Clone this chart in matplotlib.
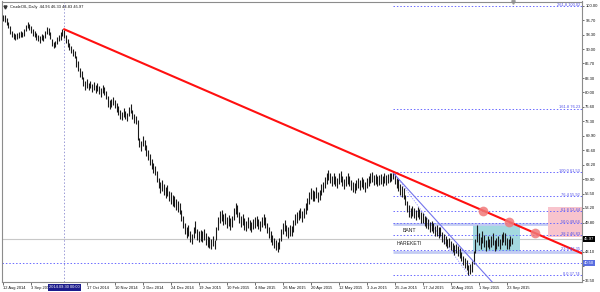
import matplotlib
matplotlib.use("Agg")
import matplotlib.pyplot as plt
import matplotlib.transforms as mtransforms
from matplotlib.patches import Rectangle

# ---------------- data ----------------
highs = [
    98.0, 97.8, 97.3, 96.4, 95.3, 94.3, 93.7, 93.5, 93.7, 93.9,
    94.1, 94.0, 94.6, 95.7, 96.2, 95.9, 95.3, 94.6, 94.2, 93.7,
    93.2, 93.0, 93.5, 93.3, 94.2, 95.1, 94.8, 94.0, 92.4, 91.7,
    92.0, 92.8, 93.3, 93.9, 94.6, 94.5, 93.3, 92.4, 91.4, 90.8,
    90.0, 89.6, 88.3, 87.2, 85.6, 85.0, 83.6, 82.6, 83.0, 82.2,
    82.7, 81.9, 82.5, 81.7, 82.1, 81.4, 80.9, 81.8, 81.2, 80.4,
    79.2, 78.2, 78.5, 79.0, 78.3, 77.5, 76.8, 75.9, 75.5, 76.3,
    75.7, 75.3, 76.5, 77.2, 76.0, 75.0, 74.5, 73.6, 69.5, 68.6,
    69.8, 69.0, 67.7, 66.6, 65.6, 64.6, 63.7, 63.0, 61.8, 60.2,
    59.3, 59.7, 58.8, 58.0, 58.5, 57.2, 56.8, 56.3, 56.0, 55.3,
    54.8, 54.3, 52.8, 51.3, 49.8, 48.8, 49.3, 47.8, 47.2, 48.8,
    50.2, 48.3, 47.8, 48.1, 47.8, 48.3, 47.3, 46.8, 46.5, 46.1,
    46.8, 45.8, 48.8, 51.0, 52.6, 52.8, 51.8, 52.1, 51.1, 51.6,
    50.8, 51.3, 53.3, 54.3, 53.8, 52.3, 51.3, 51.8, 50.8, 50.2,
    51.0, 50.4, 50.0, 50.7, 51.0, 51.4, 50.7, 50.2, 51.2, 51.7,
    51.0, 49.7, 48.8, 47.8, 47.0, 46.2, 45.7, 45.4, 46.2, 48.3,
    49.8, 50.5, 49.3, 48.8, 49.3, 49.1, 50.3, 51.8, 52.3, 52.8,
    53.3, 52.5, 53.3, 54.3, 55.4, 56.8, 57.8, 57.3, 57.2, 58.0,
    57.0, 57.4, 58.8, 59.2, 60.3, 61.2, 62.0, 61.4, 60.7, 61.2,
    60.7, 60.2, 61.2, 61.7, 60.7, 60.0, 60.7, 61.2, 60.7, 59.7,
    59.2, 59.0, 59.7, 60.2, 59.7, 60.4, 60.0, 59.2, 60.2, 60.7,
    61.2, 61.5, 60.9, 61.0, 60.6, 60.9, 61.0, 60.6, 61.2, 60.8,
    61.0, 61.2, 61.4, 61.6, 61.0, 60.2, 59.8, 58.8, 58.2, 57.8,
    56.3, 54.8, 53.8, 53.2, 53.7, 53.2, 52.7, 53.5, 53.0, 52.2,
    52.0, 51.4, 51.0, 50.7, 50.0, 50.2, 49.7, 49.0, 49.2, 48.7,
    48.9, 47.6, 47.1, 46.6, 46.1, 46.3, 45.6, 45.1, 44.6, 44.9,
    44.3, 43.9, 43.1, 42.1, 41.6, 41.2, 39.9, 40.2, 40.8, 43.3,
    46.0, 49.2, 47.5, 46.4, 47.8, 46.9, 45.8, 46.8, 46.1, 46.8,
    47.3, 45.8, 46.3, 46.8, 46.0, 47.1, 47.7, 47.3, 46.3, 46.0,
    46.8, 46.33,
]
lows = [
    96.6, 96.3, 95.7, 94.8, 93.6, 92.9, 92.3, 92.1, 92.4, 92.6,
    92.9, 92.7, 93.1, 94.1, 94.9, 94.5, 93.8, 93.1, 92.8, 92.2,
    91.8, 91.5, 92.1, 91.8, 92.6, 93.6, 93.2, 92.3, 90.7, 90.3,
    90.6, 91.2, 91.8, 92.2, 93.0, 92.5, 91.5, 90.6, 89.7, 89.2,
    88.4, 87.9, 85.8, 84.9, 83.5, 83.0, 81.4, 80.6, 81.0, 80.5,
    80.9, 80.1, 80.6, 79.9, 80.3, 79.6, 79.0, 79.9, 79.4, 78.4,
    76.5, 76.2, 76.6, 77.0, 76.3, 75.5, 74.8, 73.9, 73.5, 74.3,
    73.8, 73.3, 74.4, 75.2, 73.9, 73.0, 72.6, 68.9, 67.3, 66.5,
    67.6, 66.6, 65.3, 64.3, 63.2, 62.3, 61.3, 60.8, 59.2, 57.8,
    56.7, 57.2, 56.2, 55.5, 55.9, 54.7, 54.2, 53.7, 53.4, 52.7,
    52.2, 51.7, 50.2, 48.6, 47.2, 46.2, 46.7, 45.2, 44.8, 46.2,
    47.5, 45.7, 45.2, 45.5, 45.2, 45.7, 44.7, 44.2, 44.0, 43.6,
    44.3, 43.6, 45.8, 48.0, 49.7, 50.2, 49.2, 49.5, 48.5, 49.0,
    48.2, 48.7, 50.5, 51.7, 51.2, 49.7, 48.7, 49.2, 48.2, 47.8,
    48.6, 48.0, 47.6, 48.3, 48.6, 49.0, 48.3, 47.8, 48.8, 49.3,
    48.6, 47.3, 46.2, 45.2, 44.6, 43.9, 43.4, 43.0, 43.8, 45.6,
    47.2, 47.9, 46.8, 46.3, 46.8, 46.6, 47.7, 49.2, 49.8, 50.3,
    50.8, 50.0, 50.8, 51.8, 52.7, 54.2, 55.2, 54.8, 54.8, 55.6,
    54.6, 55.0, 56.2, 56.8, 57.8, 58.8, 59.6, 59.0, 58.3, 58.8,
    58.3, 57.8, 58.8, 59.3, 58.3, 57.6, 58.3, 58.8, 58.3, 57.3,
    56.8, 56.6, 57.3, 57.8, 57.3, 58.0, 57.6, 56.8, 57.8, 58.3,
    59.0, 59.3, 58.6, 58.8, 58.3, 58.6, 58.8, 58.3, 59.0, 58.6,
    58.9, 59.2, 59.4, 59.8, 58.8, 57.8, 57.2, 56.2, 55.8, 55.2,
    53.8, 52.2, 51.2, 50.8, 51.3, 50.8, 50.3, 51.1, 50.6, 49.8,
    49.6, 49.0, 48.6, 48.3, 47.6, 47.8, 47.3, 46.6, 46.8, 46.3,
    46.6, 45.4, 44.9, 44.4, 43.9, 44.1, 43.4, 42.9, 42.4, 42.7,
    42.1, 41.7, 40.9, 39.9, 39.4, 38.8, 37.75, 37.9, 38.3, 40.2,
    42.8, 45.4, 44.6, 43.6, 45.0, 44.2, 43.3, 44.2, 43.6, 44.2,
    44.7, 43.3, 43.8, 44.3, 43.6, 44.5, 45.2, 44.7, 43.8, 43.6,
    44.3, 44.83,
]
last_close = 45.97
marked_price = 40.50
title_text = "CrudeOIL,Daily  44.96 46.33 44.83 45.97"

date_labels = ["12 Aug 2014", "3 Sep 2014", None, "17 Oct 2014", "10 Nov 2014",
               "2 Dec 2014", "24 Dec 2014", "19 Jan 2015", "10 Feb 2015",
               "4 Mar 2015", "26 Mar 2015", "20 Apr 2015", "12 May 2015",
               "3 Jun 2015", "25 Jun 2015", "17 Jul 2015", "10 Aug 2015",
               "1 Sep 2015", "23 Sep 2015"]
bars_per_label = 16
cursor_bar = 35
cursor_label = "2014.09.30 00:00"

price_ticks = [100.00, 96.70, 93.30, 90.00, 86.70, 83.30, 80.00, 76.60, 73.30,
               69.90, 66.60, 63.20, 59.90, 56.50, 53.20, 49.80, 46.50, 43.10,
               39.80, 36.50]

trend_bars = [35, 223]
trend_prices = [94.6, 61.6]

channel_bars = [223, 283]
channel_prices = [61.3, 34.5]

fib_bars = [223, 266]
fib_prices = [61.53, 37.74]
fib_ratios = [0.0, 23.6, 38.2, 50.0, 61.8, 76.4, 100.0, 161.8, 261.8]

band_prices = [49.45, 43.0]
band_labels = ["BANT", "HAREKETI"]
band_label_bars = [228.6, 225.0]
band_label_prices = [47.9, 44.85]

box_bars = [268.6, 295.4]
box_prices = [43.0, 49.45]

pink_bars = [311.4, 331.0]
pink_prices = [46.47, 53.42]

circle_bars = [274.5, 289.0, 304.0]
circle_prices = [52.56, 50.0, 47.38]

# ---------------- figure ----------------
W, H = 600, 292
fig = plt.figure(figsize=(6.0, 2.92), dpi=100)
plt.rcParams['font.family'] = ['Liberation Sans', 'DejaVu Sans']
ax = fig.add_axes([1.5 / W, (H - 282) / H, 580 / W, 280.5 / H])
ax.set_xlim(-0.86, 330.6)
ax.set_ylim(36.04, 101.04)
ax.set_facecolor("white")

n = len(highs)
xs = list(range(n))

# bid line and marked horizontal line
ax.axhline(last_close, color="#c8c8c8", lw=0.8, zorder=1)
ax.axhline(marked_price, color="#6a6aff", lw=0.7, ls=(0, (1.5, 2)), zorder=1)
# vertical cursor line
ax.axvline(cursor_bar, color="#9a9ad6", lw=0.7, ls=(0, (1.5, 2)), zorder=1)

# cyan box and band lines
ax.add_patch(Rectangle((box_bars[0], box_prices[0]), box_bars[1] - box_bars[0],
                       box_prices[1] - box_prices[0], facecolor="#a3d9e0",
                       edgecolor="none", zorder=1))
for p in band_prices:
    ax.plot([fib_bars[0], 331], [p, p], color="#c3cbf3", lw=2.0, zorder=1.2,
            solid_capstyle="butt")

# fib levels
fib_top, fib_bot = fib_prices
for r in fib_ratios:
    p = fib_bot + (fib_top - fib_bot) * r / 100.0
    ax.plot([fib_bars[0], 331], [p, p], color="#6a6aff", lw=0.7,
            ls=(0, (1.5, 2)), zorder=1.5)
    ax.text(329.8, p + 0.25, f"{r:.1f} {p:.2f}", ha="right", va="center",
            fontsize=2.9, color="#4f4fe8", zorder=6)
ax.plot(fib_bars, fib_prices, color="#9a9aff", lw=0.6, ls=(0, (1.5, 1.5)), zorder=1.5)

# pink box
ax.add_patch(Rectangle((pink_bars[0], pink_prices[0]), pink_bars[1] - pink_bars[0],
                       pink_prices[1] - pink_prices[0], facecolor="#f8c4cd",
                       edgecolor="none", zorder=1.3))

# price bars
ax.vlines(xs, lows, highs, color="#1a1a1a", lw=0.8, zorder=3)

# channel line
ax.plot(channel_bars, channel_prices, color="#7474ec", lw=0.8, zorder=3.5)

# red trend line extended to the right edge
slope = (trend_prices[1] - trend_prices[0]) / (trend_bars[1] - trend_bars[0])
x_end = 331
ax.plot([trend_bars[0], x_end],
        [trend_prices[0], trend_prices[0] + slope * (x_end - trend_bars[0])],
        color="#ff1010", lw=1.5, zorder=4)

# circles
ax.plot(circle_bars, circle_prices, "o", color="#f07878", alpha=0.85,
        markersize=7, markeredgewidth=0, zorder=5)

# band labels
for t, bx, by in zip(band_labels, band_label_bars, band_label_prices):
    ax.text(bx, by, t, fontsize=3.7, color="#222222", ha="left", va="center", zorder=6)

# title
ax.plot([0.006], [0.982], marker="v", color="#333333", markersize=2.2,
        transform=ax.transAxes, clip_on=False)
ax.text(0.014, 0.982, title_text, transform=ax.transAxes, fontsize=2.9,
        ha="left", va="center", color="#111111")

# chart shift marker
ax.plot([n - 0.5], [0.997], marker="v", color="#999999", markersize=2.5,
        transform=mtransforms.blended_transform_factory(ax.transData, ax.transAxes),
        clip_on=False)

# axes styling
for s in ax.spines.values():
    s.set_color("#8c8c8c")
    s.set_linewidth(0.8)

# tick labels hidden behind the price boxes on the axis stay blank
covered = [last_close, marked_price]
ax.yaxis.tick_right()
ax.set_yticks(price_ticks)
ax.set_yticklabels(["" if any(abs(v - c) < 1.0 for c in covered) else f"{v:.2f}"
                    for v in price_ticks])
ax.tick_params(axis="y", labelsize=3.0, length=1.5, width=0.5, pad=1.2,
               colors="#333333", labelcolor="#111111")

tick_pos = [i * bars_per_label for i, lab in enumerate(date_labels) if lab]
tick_lab = [lab for lab in date_labels if lab]
ax.set_xticks(tick_pos)
ax.set_xticklabels(tick_lab)
for lbl in ax.get_xticklabels():
    lbl.set_horizontalalignment("left")
ax.tick_params(axis="x", labelsize=2.9, length=2.0, width=0.5, pad=1.2,
               colors="#333333", labelcolor="#111111")

# price labels on the axis
ytrans = mtransforms.blended_transform_factory(ax.transAxes, ax.transData)
ax.text(1.004, last_close, f"{last_close:.2f}", transform=ytrans, fontsize=3.0,
        color="white", ha="left", va="center", clip_on=False, zorder=10,
        bbox=dict(boxstyle="square,pad=0.25", fc="black", ec="none"))
ax.text(1.004, marked_price, f"{marked_price:.2f}", transform=ytrans, fontsize=3.0,
        color="white", ha="left", va="center", clip_on=False, zorder=10,
        bbox=dict(boxstyle="square,pad=0.25", fc="#5a6ee0", ec="none"))

# cursor date label
xtrans = mtransforms.blended_transform_factory(ax.transData, ax.transAxes)
ax.text(cursor_bar, -0.019, cursor_label, transform=xtrans, fontsize=2.9,
        color="white", ha="center", va="center", clip_on=False, zorder=10,
        bbox=dict(boxstyle="square,pad=0.3", fc="#1c1c8c", ec="none"))

fig.savefig("out.png", dpi=100, facecolor="white")
